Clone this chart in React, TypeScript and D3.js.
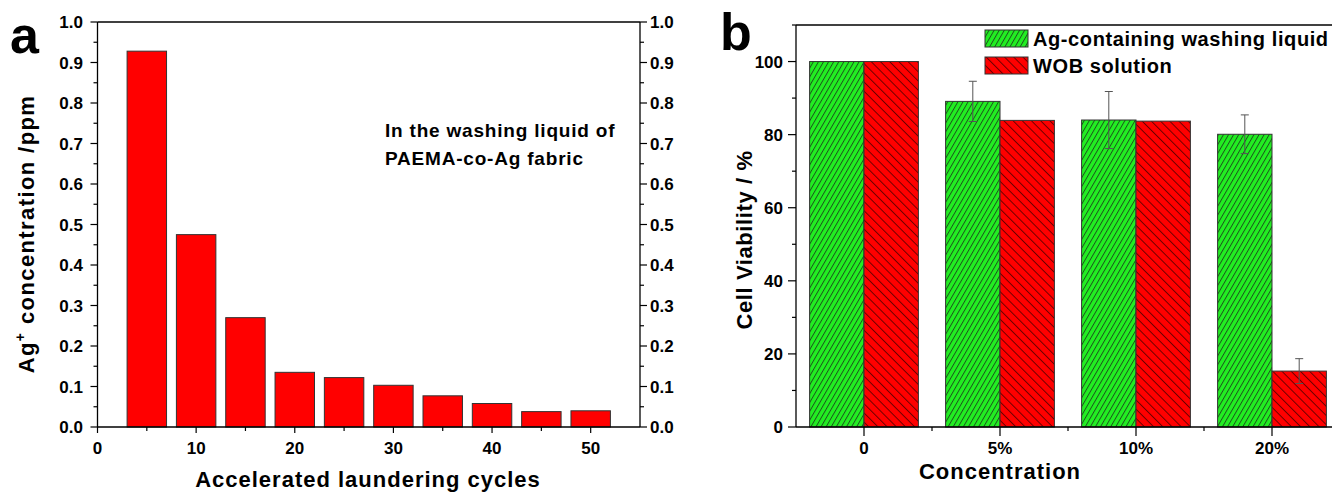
import React from "react";
import * as d3 from "d3";

// panel a: Ag+ released into washing liquid
const cycles = [5, 10, 15, 20, 25, 30, 35, 40, 45, 50];
const agConc = [0.928, 0.475, 0.27, 0.135, 0.122, 0.103, 0.077, 0.058, 0.038, 0.04];

// panel b: cell viability
const concLabels = ["0", "5%", "10%", "20%"];
const agLiquid = [100, 89.1, 84, 80.1];
const agLiquidErr = [0, 5.5, 7.8, 5.3];
const wobSolution = [100, 83.9, 83.7, 15.3];
const wobSolutionErr = [0, 0, 0, 3.4];
const seriesNames = ["Ag-containing washing liquid", "WOB solution"];

const FONT = "'Liberation Sans', Arial, Helvetica, sans-serif";

function PanelA() {
  const x = d3.scaleLinear().domain([0, 55]).range([97.5, 640]);
  const y = d3.scaleLinear().domain([0, 1]).range([427, 22]);
  const yMajor = y.ticks(10);
  const yMinor = d3.range(0.05, 1, 0.1);
  const xMajor = d3.range(0, 51, 10);
  const xMinor = d3.range(5, 55, 10);
  const fmt = d3.format(".1f");
  const barW = x(4) - x(0);

  return (
    <g fontFamily={FONT} fontWeight="bold" fill="#000">
      {cycles.map((c, i) => (
        <rect
          key={c}
          x={x(c - 2)}
          y={y(agConc[i])}
          width={barW}
          height={y(0) - y(agConc[i])}
          fill="#ff0000"
          stroke="#333"
          strokeWidth={1}
        />
      ))}
      {/* frame */}
      <line x1={x(0)} x2={x(55)} y1={y(1)} y2={y(1)} stroke="#000" strokeWidth={1.3} />
      <line x1={x(0)} x2={x(55)} y1={y(0)} y2={y(0)} stroke="#000" strokeWidth={1.3} />
      <line x1={x(0)} x2={x(0)} y1={y(0)} y2={y(1)} stroke="#000" strokeWidth={1.3} />
      <line x1={x(55)} x2={x(55)} y1={y(0)} y2={y(1)} stroke="#000" strokeWidth={1.3} />

      {yMajor.map((t) => (
        <g key={"ym" + t}>
          <line x1={x(0) - 7} x2={x(0)} y1={y(t)} y2={y(t)} stroke="#000" strokeWidth={1.2} />
          <line x1={x(55)} x2={x(55) + 7} y1={y(t)} y2={y(t)} stroke="#000" strokeWidth={1.2} />
          <text x={83} y={y(t)} dy="0.36em" textAnchor="end" fontSize={17}>
            {fmt(t)}
          </text>
          <text x={650} y={y(t)} dy="0.36em" textAnchor="start" fontSize={17}>
            {fmt(t)}
          </text>
        </g>
      ))}
      {yMinor.map((t) => (
        <g key={"yn" + t}>
          <line x1={x(0) - 4} x2={x(0)} y1={y(t)} y2={y(t)} stroke="#000" strokeWidth={1.2} />
          <line x1={x(55)} x2={x(55) + 4} y1={y(t)} y2={y(t)} stroke="#000" strokeWidth={1.2} />
        </g>
      ))}
      {xMajor.map((t) => (
        <g key={"xm" + t}>
          <line x1={x(t)} x2={x(t)} y1={y(0)} y2={y(0) + 6} stroke="#000" strokeWidth={1.2} />
          <text x={x(t)} y={454} textAnchor="middle" fontSize={17}>
            {t}
          </text>
        </g>
      ))}
      {xMinor.map((t) => (
        <line key={"xn" + t} x1={x(t)} x2={x(t)} y1={y(0)} y2={y(0) + 4} stroke="#000" strokeWidth={1.2} />
      ))}

      <text x={368} y={487} textAnchor="middle" fontSize={22} letterSpacing={1}>
        Accelerated laundering cycles
      </text>
      <text transform="translate(34,234) rotate(-90)" textAnchor="middle" fontSize={22} letterSpacing={1.4}>
        Ag
        <tspan dy={-9} fontSize={14}>+</tspan>
        <tspan dy={9}> concentration /ppm</tspan>
      </text>

      <text x={385} y={137} fontSize={19} letterSpacing={0.8}>
        In the washing liquid of
      </text>
      <text x={385} y={165} fontSize={19} letterSpacing={0.8}>
        PAEMA-co-Ag fabric
      </text>

      <text x={10} y={53} fontSize={52}>
        a
      </text>
    </g>
  );
}

function PanelB() {
  const x = d3.scaleLinear().domain([0.5, 4.5]).range([796, 1340]);
  const y = d3.scaleLinear().domain([0, 110]).range([427, 25]);
  const yMajor = d3.range(0, 101, 20);
  const yMinor = d3.range(10, 111, 20);
  const half = 0.4;
  const w = x(half) - x(0);

  const series = [
    { name: seriesNames[0], values: agLiquid, err: agLiquidErr, offset: -half, fill: "url(#hatchGreen)" },
    { name: seriesNames[1], values: wobSolution, err: wobSolutionErr, offset: 0, fill: "url(#hatchRed)" },
  ];

  return (
    <g fontFamily={FONT} fontWeight="bold" fill="#000">
      {series.map((s) =>
        s.values.map((v, i) => (
          <rect
            key={s.name + i}
            x={x(i + 1 + s.offset)}
            y={y(v)}
            width={w}
            height={y(0) - y(v)}
            fill={s.fill}
            stroke="#333"
            strokeWidth={1}
          />
        ))
      )}
      {series.map((s) =>
        s.values.map((v, i) => {
          if (!s.err[i]) return null;
          const cx = x(i + 1 + s.offset + half / 2);
          return (
            <g key={"e" + s.name + i} stroke="#555" strokeWidth={1}>
              <line x1={cx} x2={cx} y1={y(v + s.err[i])} y2={y(v - s.err[i])} />
              <line x1={cx - 4} x2={cx + 4} y1={y(v + s.err[i])} y2={y(v + s.err[i])} />
              <line x1={cx - 4} x2={cx + 4} y1={y(v - s.err[i])} y2={y(v - s.err[i])} />
            </g>
          );
        })
      )}

      {/* frame */}
      <line x1={x(0.5)} x2={x(4.5)} y1={y(110)} y2={y(110)} stroke="#000" strokeWidth={1.3} />
      <line x1={x(0.5)} x2={x(4.5)} y1={y(0)} y2={y(0)} stroke="#000" strokeWidth={1.3} />
      <line x1={x(0.5)} x2={x(0.5)} y1={y(0)} y2={y(110)} stroke="#000" strokeWidth={1.3} />

      {yMajor.map((t) => (
        <g key={"ym" + t}>
          <line x1={x(0.5) - 8} x2={x(0.5)} y1={y(t)} y2={y(t)} stroke="#000" strokeWidth={1.2} />
          <text x={783} y={y(t)} dy="0.36em" textAnchor="end" fontSize={17}>
            {t}
          </text>
        </g>
      ))}
      {yMinor.map((t) => (
        <line key={"yn" + t} x1={x(0.5) - 4} x2={x(0.5)} y1={y(t)} y2={y(t)} stroke="#000" strokeWidth={1.2} />
      ))}
      {concLabels.map((c, i) => (
        <g key={c}>
          <line x1={x(i + 1)} x2={x(i + 1)} y1={y(0)} y2={y(0) + 9} stroke="#000" strokeWidth={1.2} />
          <text x={x(i + 1)} y={454} textAnchor="middle" fontSize={17}>
            {c}
          </text>
        </g>
      ))}
      {[1.5, 2.5, 3.5].map((t) => (
        <line key={"xn" + t} x1={x(t)} x2={x(t)} y1={y(0)} y2={y(0) + 4} stroke="#000" strokeWidth={1.2} />
      ))}

      <text x={1000} y={479} textAnchor="middle" fontSize={22} letterSpacing={1}>
        Concentration
      </text>
      <text transform="translate(752,240) rotate(-90)" textAnchor="middle" fontSize={22} letterSpacing={0.6}>
        Cell Viability / %
      </text>

      {/* legend */}
      {series.map((s, i) => (
        <g key={"lg" + i}>
          <rect x={985} y={30 + i * 27} width={43} height={17} fill={s.fill} stroke="#333" strokeWidth={1} />
          <text x={1033} y={46 + i * 27} fontSize={20} letterSpacing={0.6}>
            {s.name}
          </text>
        </g>
      ))}

      <text x={720} y={50} fontSize={52}>
        b
      </text>
    </g>
  );
}

export default function App() {
  return (
    <div style={{ position: "fixed", left: 0, top: 0 }}>
      <svg width={1332} height={492} style={{ display: "block", background: "#fff" }}>
        <defs>
          <pattern id="hatchGreen" patternUnits="userSpaceOnUse" width={4.4} height={10} patternTransform="rotate(30)">
            <rect width={4.4} height={10} fill="#22ee22" />
            <line x1={0.5} x2={0.5} y1={0} y2={10} stroke="#1b4d1b" strokeWidth={0.9} />
          </pattern>
          <pattern id="hatchRed" patternUnits="userSpaceOnUse" width={6.5} height={10} patternTransform="rotate(-45)">
            <rect width={6.5} height={10} fill="#ff0000" />
            <line x1={0.5} x2={0.5} y1={0} y2={10} stroke="#5a0000" strokeWidth={0.9} />
          </pattern>
        </defs>
        <PanelA />
        <PanelB />
      </svg>
    </div>
  );
}
